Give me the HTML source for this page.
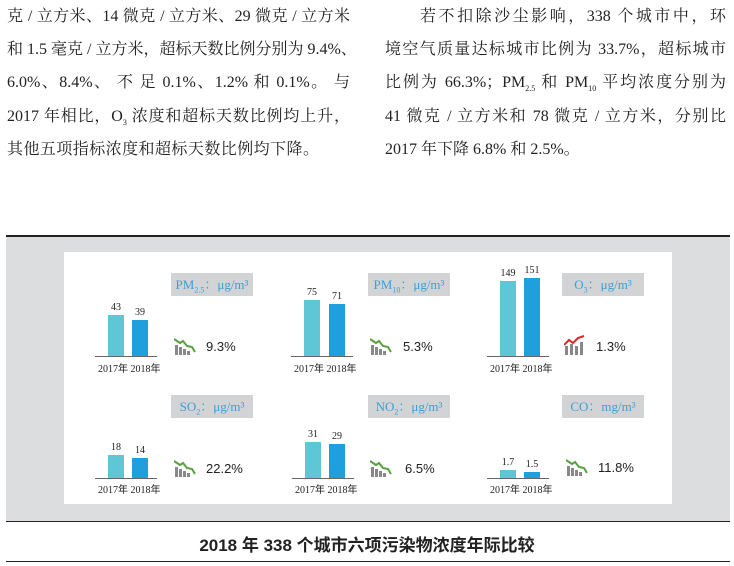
<!DOCTYPE html>
<html><head><meta charset="utf-8"><style>
body{margin:0;width:734px;height:566px;background:#fff;position:relative;overflow:hidden;font-family:"Liberation Serif","Noto Serif CJK SC",serif;}
.l{position:absolute;font-size:16px;color:#222;white-space:nowrap;text-align:justify;text-align-last:justify;height:20px;line-height:20px;}
.a{position:absolute}
.bar1{position:absolute;background:#5fc6d6;width:16px}
.bar2{position:absolute;background:#1fa0dc;width:16px}
.ax{position:absolute;height:1px;background:#666;width:62px}
.num{position:absolute;font-size:10px;color:#222;width:30px;text-align:center}
.yr{position:absolute;font-size:10px;color:#222;white-space:nowrap;font-family:"Liberation Serif","Noto Sans CJK SC",serif}
.box{position:absolute;width:82px;height:23px;background:#d2d3d5;color:#3aa0d8;font-size:13px;line-height:23px;text-align:center}
.pct{position:absolute;font-size:13px;color:#222;font-family:"Liberation Sans",sans-serif}
sub{font-size:8px;line-height:0}
</style></head><body>
<div class="l" style="left:7px;top:7px;width:343px">克 / 立方米、14 微克 / 立方米、29 微克 / 立方米</div>
<div class="l" style="left:7px;top:40px;width:343px">和 1.5 毫克 / 立方米，超标天数比例分别为 9.4%、</div>
<div class="l" style="left:7px;top:73px;width:343px">6.0%、8.4%、 不 足 0.1%、1.2% 和 0.1%。 与</div>
<div class="l" style="left:7px;top:107px;width:343px">2017 年相比，O<sub>3</sub> 浓度和超标天数比例均上升，</div>
<div class="l" style="left:7px;top:140px;width:312px">其他五项指标浓度和超标天数比例均下降。</div>
<div class="l" style="left:420px;top:7px;width:306px">若不扣除沙尘影响，338 个城市中，环</div>
<div class="l" style="left:385px;top:40px;width:341px">境空气质量达标城市比例为 33.7%，超标城市</div>
<div class="l" style="left:385px;top:73px;width:341px">比例为 66.3%；PM<sub>2.5</sub> 和 PM<sub>10</sub> 平均浓度分别为</div>
<div class="l" style="left:385px;top:107px;width:341px">41 微克 / 立方米和 78 微克 / 立方米，分别比</div>
<div class="l" style="left:385px;top:140px;width:192px">2017 年下降 6.8% 和 2.5%。</div>

<div class="a" style="left:6px;top:235px;width:724px;height:2px;background:#222"></div>
<div class="a" style="left:6px;top:237px;width:724px;height:284px;background:#dcdddf"></div>
<div class="a" style="left:64px;top:252px;width:608px;height:252px;background:#fff"></div>
<div class="a" style="left:6px;top:521px;width:724px;height:1px;background:#222"></div>
<div class="a" style="left:6px;top:561px;width:724px;height:1px;background:#222"></div>
<div class="a" style="left:0;top:531px;width:734px;text-align:center;font-size:17px;font-weight:bold;font-family:'Liberation Sans','Noto Sans CJK SC',sans-serif;color:#222">2018 年 338 个城市六项污染物浓度年际比较</div>

<!-- Row 1 -->
<div class="bar1" style="left:108px;top:315px;height:41px"></div><div class="bar2" style="left:132px;top:320px;height:36px"></div>
<div class="num" style="left:101px;top:302px">43</div><div class="num" style="left:125px;top:307px">39</div>
<div class="ax" style="left:95px;top:356px"></div><div class="yr" style="left:98px;top:360px">2017年 2018年</div>
<div class="box" style="left:171px;top:273px">PM<sub>2.5</sub>：μg/m³</div>

<div class="bar1" style="left:304px;top:300px;height:56px"></div><div class="bar2" style="left:329px;top:304px;height:52px"></div>
<div class="num" style="left:297px;top:287px">75</div><div class="num" style="left:322px;top:291px">71</div>
<div class="ax" style="left:291px;top:356px"></div><div class="yr" style="left:294px;top:360px">2017年 2018年</div>
<div class="box" style="left:368px;top:273px">PM<sub>10</sub>：μg/m³</div>

<div class="bar1" style="left:500px;top:281px;height:75px"></div><div class="bar2" style="left:524px;top:278px;height:78px"></div>
<div class="num" style="left:493px;top:268px">149</div><div class="num" style="left:517px;top:265px">151</div>
<div class="ax" style="left:487px;top:356px"></div><div class="yr" style="left:490px;top:360px">2017年 2018年</div>
<div class="box" style="left:562px;top:273px">O<sub>3</sub>：μg/m³</div>

<!-- Row 2 -->
<div class="bar1" style="left:108px;top:455px;height:23px"></div><div class="bar2" style="left:132px;top:458px;height:20px"></div>
<div class="num" style="left:101px;top:442px">18</div><div class="num" style="left:125px;top:445px">14</div>
<div class="ax" style="left:95px;top:478px"></div><div class="yr" style="left:98px;top:481px">2017年 2018年</div>
<div class="box" style="left:171px;top:395px">SO<sub>2</sub>：μg/m³</div>

<div class="bar1" style="left:305px;top:442px;height:36px"></div><div class="bar2" style="left:329px;top:444px;height:34px"></div>
<div class="num" style="left:298px;top:429px">31</div><div class="num" style="left:322px;top:431px">29</div>
<div class="ax" style="left:292px;top:478px"></div><div class="yr" style="left:295px;top:481px">2017年 2018年</div>
<div class="box" style="left:368px;top:395px">NO<sub>2</sub>：μg/m³</div>

<div class="bar1" style="left:500px;top:470px;height:8px"></div><div class="bar2" style="left:524px;top:472px;height:6px"></div>
<div class="num" style="left:493px;top:457px">1.7</div><div class="num" style="left:517px;top:459px">1.5</div>
<div class="ax" style="left:487px;top:478px"></div><div class="yr" style="left:490px;top:481px">2017年 2018年</div>
<div class="box" style="left:562px;top:395px">CO：mg/m³</div>

<!-- icons -->
<svg class="a" style="left:174px;top:337px" width="22" height="18" viewBox="0 0 22 18"><rect x="1" y="8" width="3" height="10" fill="#888"/><rect x="5" y="10" width="3" height="8" fill="#888"/><rect x="9" y="12" width="3" height="6" fill="#888"/><rect x="13" y="14" width="3" height="4" fill="#888"/><polyline points="0,2 6,6 9,4 13,9 18,10 21,15" fill="none" stroke="#5aa040" stroke-width="2"/></svg>
<div class="pct" style="left:206px;top:339px">9.3%</div>
<svg class="a" style="left:370px;top:337px" width="22" height="18" viewBox="0 0 22 18"><rect x="1" y="8" width="3" height="10" fill="#888"/><rect x="5" y="10" width="3" height="8" fill="#888"/><rect x="9" y="12" width="3" height="6" fill="#888"/><rect x="13" y="14" width="3" height="4" fill="#888"/><polyline points="0,2 6,6 9,4 13,9 18,10 21,15" fill="none" stroke="#5aa040" stroke-width="2"/></svg>
<div class="pct" style="left:403px;top:339px">5.3%</div>
<svg class="a" style="left:564px;top:335px" width="22" height="20" viewBox="0 0 22 20"><rect x="1" y="11" width="3" height="9" fill="#888"/><rect x="6" y="9" width="3" height="11" fill="#888"/><rect x="11" y="11" width="3" height="9" fill="#888"/><rect x="16" y="7" width="3" height="13" fill="#888"/><polyline points="0,10 5,5 9,8 14,3 20,1" fill="none" stroke="#d8282e" stroke-width="2"/></svg>
<div class="pct" style="left:596px;top:339px">1.3%</div>
<svg class="a" style="left:174px;top:459px" width="22" height="18" viewBox="0 0 22 18"><rect x="1" y="8" width="3" height="10" fill="#888"/><rect x="5" y="10" width="3" height="8" fill="#888"/><rect x="9" y="12" width="3" height="6" fill="#888"/><rect x="13" y="14" width="3" height="4" fill="#888"/><polyline points="0,2 6,6 9,4 13,9 18,10 21,15" fill="none" stroke="#5aa040" stroke-width="2"/></svg>
<div class="pct" style="left:206px;top:461px">22.2%</div>
<svg class="a" style="left:370px;top:459px" width="22" height="18" viewBox="0 0 22 18"><rect x="1" y="8" width="3" height="10" fill="#888"/><rect x="5" y="10" width="3" height="8" fill="#888"/><rect x="9" y="12" width="3" height="6" fill="#888"/><rect x="13" y="14" width="3" height="4" fill="#888"/><polyline points="0,2 6,6 9,4 13,9 18,10 21,15" fill="none" stroke="#5aa040" stroke-width="2"/></svg>
<div class="pct" style="left:405px;top:461px">6.5%</div>
<svg class="a" style="left:566px;top:458px" width="22" height="18" viewBox="0 0 22 18"><rect x="1" y="8" width="3" height="10" fill="#888"/><rect x="5" y="10" width="3" height="8" fill="#888"/><rect x="9" y="12" width="3" height="6" fill="#888"/><rect x="13" y="14" width="3" height="4" fill="#888"/><polyline points="0,2 6,6 9,4 13,9 18,10 21,15" fill="none" stroke="#5aa040" stroke-width="2"/></svg>
<div class="pct" style="left:598px;top:460px">11.8%</div>
</body></html>
